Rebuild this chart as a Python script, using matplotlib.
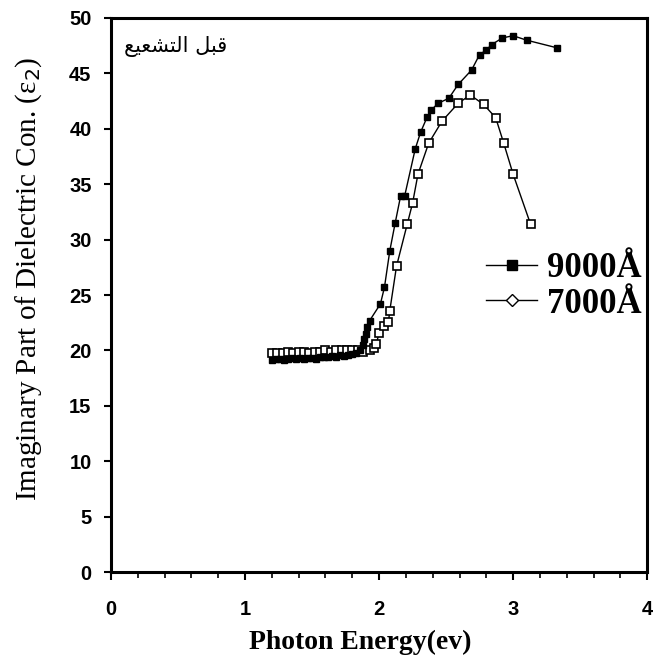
import matplotlib
matplotlib.use('Agg')
import matplotlib.pyplot as plt
from matplotlib.lines import Line2D
from matplotlib.ticker import MultipleLocator

# 9000 A film (filled squares)
x_9000 = [1.20, 1.23, 1.26, 1.29, 1.32, 1.35, 1.38, 1.41, 1.44, 1.47, 1.50, 1.53,
          1.56, 1.59, 1.62, 1.65, 1.68, 1.71, 1.74, 1.77, 1.80, 1.83, 1.86, 1.88,
          1.89, 1.90, 1.91, 1.93, 2.01, 2.04, 2.08, 2.12, 2.16, 2.19, 2.27, 2.31,
          2.36, 2.39, 2.44, 2.52, 2.59, 2.69, 2.75, 2.80, 2.84, 2.92, 3.00, 3.10, 3.33]
y_9000 = [19.1, 19.2, 19.2, 19.1, 19.2, 19.3, 19.2, 19.3, 19.2, 19.3, 19.3, 19.2,
          19.4, 19.4, 19.4, 19.5, 19.4, 19.6, 19.5, 19.6, 19.7, 19.8, 20.0, 20.5,
          21.0, 21.5, 22.1, 22.7, 24.2, 25.7, 29.0, 31.5, 33.9, 33.9, 38.2, 39.7,
          41.1, 41.7, 42.3, 42.75, 44.0, 45.3, 46.7, 47.1, 47.6, 48.2, 48.4, 48.0, 47.3]

# 7000 A film (open squares)
x_7000 = [1.20, 1.24, 1.28, 1.32, 1.36, 1.40, 1.44, 1.48, 1.52, 1.56, 1.60, 1.64,
          1.68, 1.72, 1.76, 1.80, 1.84, 1.88, 1.93, 1.96, 1.98, 2.00, 2.04, 2.07,
          2.08, 2.13, 2.21, 2.25, 2.29, 2.37, 2.47, 2.59, 2.68, 2.78, 2.87, 2.93,
          3.00, 3.13]
y_7000 = [19.8, 19.8, 19.8, 19.9, 19.8, 19.9, 19.9, 19.8, 19.9, 19.9, 20.0, 19.9,
          20.0, 20.0, 20.0, 20.0, 20.0, 19.9, 20.0, 20.2, 20.6, 21.6, 22.2, 22.6,
          23.6, 27.6, 31.4, 33.3, 35.9, 38.7, 40.7, 42.3, 43.05, 42.2, 41.0, 38.7,
          35.9, 31.4]

x_ticks = [0, 1, 2, 3, 4]
y_ticks = [0, 5, 10, 15, 20, 25, 30, 35, 40, 45, 50]
labels = ['9000Å', '7000Å']
# "before irradiation", written with Arabic presentation forms in visual order
note = '\ufeca\ufef4\ufecc\ufeb8\ufe98\ufedf\ufe8d \ufede\ufe92\ufed7'

fig = plt.figure(figsize=(6.57, 6.66), dpi=100)
ax = fig.add_axes([0.169, 0.141, 0.816, 0.832])

ax.plot(x_7000, y_7000, color='black', lw=1, marker='s', ms=5.5,
        mfc='white', mec='black', mew=1.2)
ax.plot(x_9000, y_9000, color='black', lw=1, marker='s', ms=5,
        mfc='black', mec='black', mew=1)

ax.set_xlim(0, 4)
ax.set_ylim(0, 50)
ax.set_xticks(x_ticks)
ax.set_yticks(y_ticks)
ax.xaxis.set_minor_locator(MultipleLocator(0.2))

for s in ax.spines.values():
    s.set_linewidth(2.2)
ax.tick_params(axis='both', which='major', direction='out', width=1.5,
               labelsize=14.5)
ax.tick_params(axis='x', which='major', length=6, pad=14)
ax.tick_params(axis='x', which='minor', length=4, width=1.2)
ax.tick_params(axis='y', which='major', length=5, pad=9)
for lab in ax.get_xticklabels() + ax.get_yticklabels():
    lab.set_fontfamily('Liberation Sans')
    lab.set_fontweight('bold')

ax.set_xlabel('Photon Energy(ev)', family='Liberation Serif', fontweight='bold',
              fontsize=20)
ax.xaxis.set_label_coords(0.465, -0.105)
ax.set_ylabel('Imaginary Part of Dielectric Con. (ε$_2$)', family='Liberation Serif',
              fontsize=21)
ax.yaxis.set_label_coords(-0.125, 0.53)

ax.text(0.121, 0.948, note, transform=ax.transAxes, family='DejaVu Sans',
        fontsize=15, ha='center', va='center')

handles = [
    Line2D([], [], color='black', lw=1, marker='s', ms=7, mfc='black', mec='black'),
    Line2D([], [], color='black', lw=1, marker='D', ms=6, mfc='white', mec='black'),
]
ax.legend(handles, labels, loc='upper right', bbox_to_anchor=(0.99, 0.578),
          frameon=False, borderaxespad=0, borderpad=0, handlelength=1.45,
          handletextpad=0.3, labelspacing=0.08,
          prop={'family': 'Liberation Serif', 'weight': 'bold', 'size': 25})

fig.savefig('out.png', dpi=100)
